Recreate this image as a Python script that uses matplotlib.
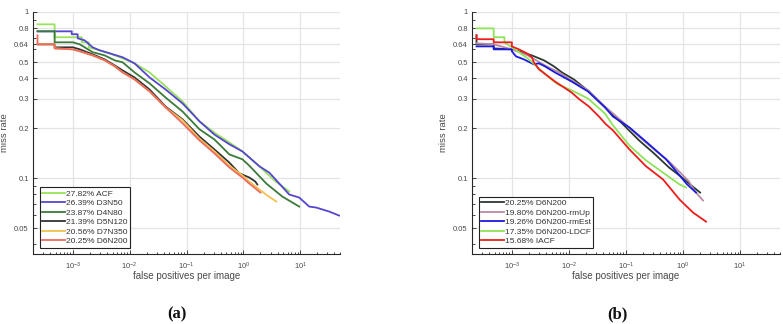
import matplotlib
matplotlib.use("Agg")
import matplotlib.pyplot as plt
from matplotlib.ticker import LogLocator, NullFormatter

plt.rcParams['font.family'] = ['Liberation Sans', 'DejaVu Sans']
plt.rcParams['mathtext.fontset'] = 'custom'
plt.rcParams['mathtext.rm'] = 'Liberation Sans'
plt.rcParams['mathtext.it'] = 'Liberation Sans'

# ---- panel (a) ----
acf_fppi = [2.4e-4, 4.8e-4, 4.8e-4, 1.44e-3, 1.44e-3, 1.91e-3, 1.91e-3, 2.98e-3, 4.46e-3, 7.54e-3,
            0.0122, 0.0224, 0.0428, 0.0851, 0.169, 0.310, 0.568, 0.960, 1.91, 3.50, 6.41]
acf_mr = [0.843, 0.843, 0.705, 0.705, 0.657, 0.657, 0.613, 0.588, 0.564, 0.526,
          0.491, 0.433, 0.357, 0.290, 0.220, 0.188, 0.164, 0.145, 0.118, 0.097, 0.0832]

d3n50_fppi = [2.4e-4, 9.6e-4, 9.6e-4, 1.22e-3, 1.22e-3, 1.62e-3, 2.24e-3, 2.98e-3, 4.46e-3, 7.54e-3,
              0.0122, 0.0224, 0.0428, 0.0851, 0.169, 0.310, 0.568, 0.960, 1.91, 2.86,
              6.41, 9.60, 14.4, 19.1, 32.3, 48.3]
d3n50_mr = [0.765, 0.765, 0.735, 0.735, 0.695, 0.675, 0.613, 0.588, 0.564, 0.534,
            0.491, 0.404, 0.342, 0.282, 0.220, 0.183, 0.160, 0.145, 0.118, 0.108,
            0.0798, 0.0765, 0.0675, 0.0666, 0.0630, 0.0596]

d4n80_fppi = [2.4e-4, 4.8e-4, 4.8e-4, 1.0e-3, 1.33e-3, 2.24e-3, 3.64e-3, 5.46e-3, 7.54e-3, 0.0122,
              0.0224, 0.0428, 0.0851, 0.169, 0.310, 0.568, 0.960, 1.27, 2.53, 4.83, 9.60]
d4n80_mr = [0.765, 0.765, 0.657, 0.657, 0.639, 0.573, 0.548, 0.512, 0.498, 0.433,
            0.372, 0.306, 0.252, 0.197, 0.171, 0.139, 0.130, 0.119, 0.0929, 0.0776, 0.0675]

d5n120_fppi = [2.4e-4, 4.8e-4, 4.8e-4, 1.0e-3, 1.33e-3, 2.24e-3, 3.64e-3, 5.46e-3, 7.54e-3, 0.0122,
               0.0224, 0.0428, 0.0851, 0.169, 0.310, 0.568, 0.851, 1.27, 1.62, 1.76]
d5n120_mr = [0.639, 0.639, 0.613, 0.613, 0.596, 0.556, 0.519, 0.477, 0.445, 0.404,
             0.342, 0.270, 0.226, 0.178, 0.149, 0.124, 0.107, 0.101, 0.0955, 0.0917]

d7n350_fppi = [2.4e-4, 4.8e-4, 4.8e-4, 1.0e-3, 1.33e-3, 2.24e-3, 3.64e-3, 5.46e-3, 7.54e-3, 0.0122,
               0.0224, 0.0428, 0.0851, 0.169, 0.310, 0.568, 0.960, 1.27, 1.91, 2.64, 3.79]
d7n350_mr = [0.639, 0.639, 0.604, 0.596, 0.580, 0.548, 0.512, 0.471, 0.433, 0.393,
             0.333, 0.267, 0.223, 0.173, 0.145, 0.119, 0.104, 0.0955, 0.0855, 0.0787, 0.0724]

d6n200_fppi = [2.4e-4, 2.4e-4, 4.8e-4, 4.8e-4, 1.0e-3, 1.33e-3, 2.24e-3, 3.64e-3, 5.46e-3, 7.54e-3,
               0.0122, 0.0224, 0.0428, 0.0851, 0.169, 0.310, 0.568, 0.960, 1.27, 1.99]
d6n200_mr = [0.724, 0.639, 0.639, 0.604, 0.596, 0.580, 0.548, 0.512, 0.471, 0.433,
             0.393, 0.333, 0.267, 0.214, 0.169, 0.141, 0.116, 0.101, 0.0929, 0.0820]

# ---- panel (b) ----
rmup_fppi = [2.4e-4, 4.8e-4, 1.0e-3, 1.91e-3, 3.79e-3, 6.68e-3, 0.0111, 0.0215, 0.0428,
             0.0851, 0.169, 0.310, 0.568, 0.851, 1.27, 1.62, 2.24]
rmup_mr = [0.648, 0.639, 0.596, 0.548, 0.477, 0.433, 0.388, 0.338, 0.270,
           0.220, 0.178, 0.149, 0.126, 0.110, 0.0955, 0.0832, 0.0734]

rmest_fppi = [2.4e-4, 4.8e-4, 4.8e-4, 1.0e-3, 1.0e-3, 1.18e-3, 1.62e-3, 2.43e-3, 2.98e-3, 3.79e-3,
              5.68e-3, 0.0111, 0.0215, 0.0428, 0.0591, 0.115, 0.224, 0.504, 0.869, 1.18, 1.69]
rmest_mr = [0.621, 0.621, 0.596, 0.596, 0.580, 0.541, 0.519, 0.484, 0.491, 0.471,
            0.433, 0.382, 0.333, 0.267, 0.235, 0.202, 0.166, 0.130, 0.104, 0.0917, 0.0820]

ldcf_fppi = [2.4e-4, 4.8e-4, 4.8e-4, 7.4e-4, 7.4e-4, 1.0e-3, 1.33e-3, 1.99e-3, 2.86e-3, 4.46e-3,
             6.41e-3, 0.0111, 0.0215, 0.0428, 0.0591, 0.115, 0.224, 0.446, 0.869, 1.13]
ldcf_mr = [0.797, 0.797, 0.705, 0.705, 0.657, 0.613, 0.573, 0.519, 0.464, 0.404,
           0.367, 0.338, 0.302, 0.245, 0.208, 0.157, 0.128, 0.108, 0.0917, 0.0879]

iacf_fppi = [2.4e-4, 2.4e-4, 4.8e-4, 4.8e-4, 1.0e-3, 1.0e-3, 1.33e-3, 1.83e-3, 2.24e-3, 2.43e-3,
             2.98e-3, 5.68e-3, 0.0111, 0.0153, 0.0224, 0.0336, 0.0446, 0.0591, 0.115, 0.224,
             0.446, 0.869, 1.50, 2.53]
iacf_mr = [0.724, 0.686, 0.686, 0.657, 0.657, 0.621, 0.596, 0.564, 0.534, 0.498,
           0.452, 0.382, 0.328, 0.298, 0.270, 0.235, 0.211, 0.194, 0.149, 0.118,
           0.0983, 0.0744, 0.0621, 0.0548]

YTICKS = [0.05, 0.1, 0.2, 0.3, 0.4, 0.5, 0.64, 0.8, 1]
YTICK_LABELS = ['0.05', '0.1', '0.2', '0.3', '0.4', '0.5', '0.64', '0.8', '1']
XTICKS = [1e-3, 1e-2, 1e-1, 1e0, 1e1]
XTICK_LABELS = [r'$10^{-3}$', r'$10^{-2}$', r'$10^{-1}$', r'$10^{0}$', r'$10^{1}$']

AXCOL = '#262626'
LABCOL = '#4a4a4a'

curves_a = [
    (acf_fppi, acf_mr, '#9ae25a', '27.82% ACF'),
    (d3n50_fppi, d3n50_mr, '#5546d0', '26.39% D3N50'),
    (d4n80_fppi, d4n80_mr, '#3b7a3b', '23.87% D4N80'),
    (d5n120_fppi, d5n120_mr, '#333333', '21.39% D5N120'),
    (d7n350_fppi, d7n350_mr, '#f2c14e', '20.56% D7N350'),
    (d6n200_fppi, d6n200_mr, '#ee6a5f', '20.25% D6N200'),
]
curves_b = [
    (d6n200_fppi, d6n200_mr, '#2b3a30', '20.25% D6N200'),
    (rmup_fppi, rmup_mr, '#b88aa4', '19.80% D6N200-rmUp'),
    (rmest_fppi, rmest_mr, '#1a1ae0', '19.26% D6N200-rmEst'),
    (ldcf_fppi, ldcf_mr, '#8fe35a', '17.35% D6N200-LDCF'),
    (iacf_fppi, iacf_mr, '#ee1c1c', '15.68% IACF'),
]


def draw_panel(ax, curves):
    for fppi, mr, color, label in curves:
        ax.plot(fppi, mr, color=color, linewidth=1.3, label=label)
    ax.set_xscale('log')
    ax.set_yscale('log')
    ax.set_xlim(2e-4, 50)
    ax.set_ylim(0.035, 1)
    ax.set_yticks(YTICKS, YTICK_LABELS)
    ax.set_xticks(XTICKS, XTICK_LABELS)
    ax.yaxis.set_minor_locator(LogLocator(base=10, subs=range(2, 10)))
    ax.xaxis.set_minor_locator(LogLocator(base=10, subs=range(2, 10)))
    ax.yaxis.set_minor_formatter(NullFormatter())
    ax.xaxis.set_minor_formatter(NullFormatter())
    ax.grid(True, which='major', color='#e4e4e4', linewidth=0.9)
    ax.set_axisbelow(True)
    for side in ['top', 'right']:
        ax.spines[side].set_visible(False)
    for side in ['left', 'bottom']:
        ax.spines[side].set_color(AXCOL)
        ax.spines[side].set_linewidth(0.8)
    ax.tick_params(which='both', direction='in', colors=AXCOL, labelcolor=LABCOL,
                   labelsize=5.5, width=0.6)
    ax.tick_params(which='major', length=3)
    ax.tick_params(which='minor', length=1.8)
    ax.tick_params(axis='x', pad=5)
    ax.tick_params(axis='y', pad=3)
    ax.set_xlabel('false positives per image', fontsize=7, color=LABCOL)
    ax.set_ylabel('miss rate', fontsize=6.8, color=LABCOL)
    ax.xaxis.set_label_coords(0.5, -0.072)
    ax.yaxis.set_label_coords(-0.078, 0.5)
    leg = ax.legend(loc='lower left', bbox_to_anchor=(0.022, 0.026), borderaxespad=0,
                    fontsize=6.0, handlelength=2.7, handletextpad=0.1, labelspacing=0.2,
                    borderpad=0.3, fancybox=False, framealpha=1)
    leg.get_frame().set_edgecolor('#222222')
    leg.get_frame().set_linewidth(0.8)
    for t in leg.get_texts():
        t.set_color('#333333')


fig = plt.figure(figsize=(7.83, 3.24), dpi=100)
ax_a = fig.add_axes([33 / 783, 70 / 324, 307 / 783, 242 / 324])
ax_b = fig.add_axes([472 / 783, 70 / 324, 308 / 783, 242 / 324])
draw_panel(ax_a, curves_a)
draw_panel(ax_b, curves_b)

fig.text(177 / 783, 0.03, '(a)', ha='center', va='center', fontsize=12,
         fontweight='bold', family='Liberation Serif', color='#111111')
fig.text(617 / 783, 0.03, '(b)', ha='center', va='center', fontsize=12,
         fontweight='bold', family='Liberation Serif', color='#111111')

fig.savefig('out.png', dpi=100)
